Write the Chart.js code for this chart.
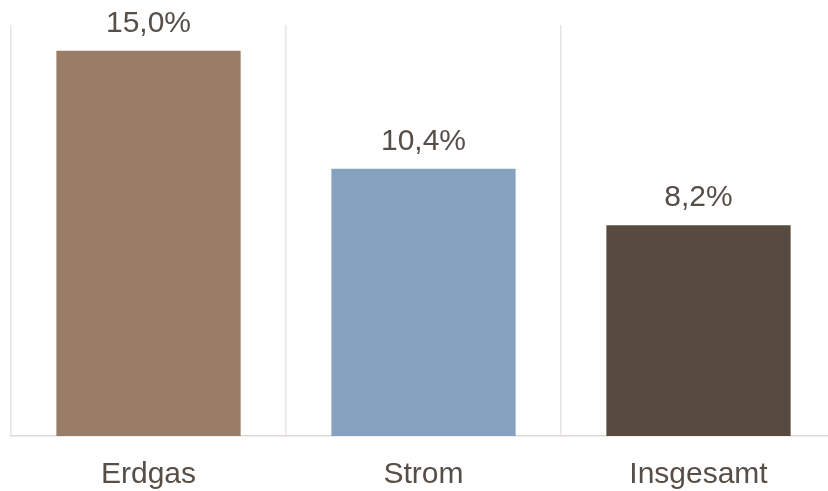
<!DOCTYPE html>
<html lang="de">
<head>
    <meta charset="UTF-8">
    <title>Preisanstieg Erdgas und Strom</title>
    <script src="https://cdn.jsdelivr.net/npm/chart.js"></script>
    <style>
        html, body {
            margin: 0;
            padding: 0;
            background: #ffffff;
            overflow: hidden;
        }
        #chart {
            display: block;
        }
    </style>
</head>
<body>
    <canvas id="chart" width="840" height="491"></canvas>

    <script>
        // Daten
        const categories = ['Erdgas', 'Strom', 'Insgesamt'];
        const values = [15.0, 10.4, 8.2];
        const barColors = ['#997D66', '#87A2C0', '#574A3E'];

        const textColor = '#574E47';
        const gridColor = '#E8E4E0';

        // Wert über jedem Balken, deutsches Zahlenformat
        const valueLabels = {
            id: 'valueLabels',
            afterDatasetsDraw(chart) {
                const ctx = chart.ctx;
                const meta = chart.getDatasetMeta(0);
                ctx.save();
                ctx.font = '30px "Liberation Sans", Arial, sans-serif';
                ctx.fillStyle = textColor;
                ctx.textAlign = 'center';
                ctx.textBaseline = 'alphabetic';
                meta.data.forEach((bar, i) => {
                    const text = values[i].toFixed(1).replace('.', ',') + '%';
                    ctx.fillText(text, bar.x, bar.y - 19);
                });
                ctx.restore();
            }
        };

        new Chart(document.getElementById('chart'), {
            type: 'bar',
            data: {
                labels: categories,
                datasets: [{
                    data: values,
                    backgroundColor: barColors,
                    borderWidth: 0,
                    categoryPercentage: 1,
                    barPercentage: 0.67
                }]
            },
            options: {
                responsive: false,
                animation: false,
                layout: {
                    padding: { top: 25, left: 11, right: 4, bottom: -23 }
                },
                plugins: {
                    legend: { display: false },
                    tooltip: { enabled: false }
                },
                scales: {
                    x: {
                        offset: true,
                        grid: {
                            offset: true,
                            color: gridColor,
                            lineWidth: 1.5,
                            drawTicks: false
                        },
                        border: { color: '#DDD8D3', width: 1.5 },
                        ticks: {
                            color: textColor,
                            padding: 21,
                            font: { family: '"Liberation Sans", Arial, sans-serif', size: 30 }
                        }
                    },
                    y: {
                        display: false,
                        min: 0,
                        max: 16
                    }
                }
            },
            plugins: [valueLabels]
        });
    </script>
</body>
</html>
